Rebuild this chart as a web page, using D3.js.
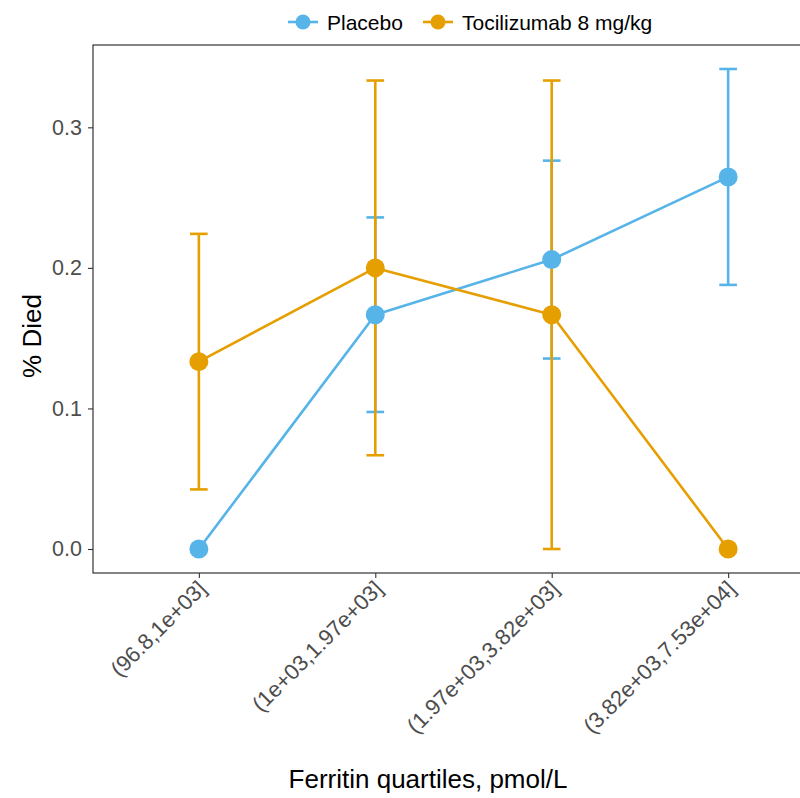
<!DOCTYPE html>
<html>
<head>
<meta charset="utf-8">
<script src="https://cdn.jsdelivr.net/npm/d3@7"></script>
<style>
  html, body { margin: 0; padding: 0; background: #fff; }
  svg { display: block; font-family: "Liberation Sans", Arial, Helvetica, sans-serif; }
</style>
</head>
<body>
<svg id="chart" width="800" height="798"></svg>
<script>
// ---- data ----
const categories = ["(96.8,1e+03]", "(1e+03,1.97e+03]", "(1.97e+03,3.82e+03]", "(3.82e+03,7.53e+04]"];
const seriesNames = ["Placebo", "Tocilizumab 8 mg/kg"];
const placeboMean  = [0.0, 0.1667, 0.2059, 0.2647];
const placeboLower = [0.0, 0.0975, 0.1355, 0.1879];
const placeboUpper = [0.0, 0.2359, 0.2763, 0.3415];
const tociMean  = [0.1333, 0.2000, 0.1667, 0.0];
const tociLower = [0.0424, 0.0667, 0.0, 0.0];
const tociUpper = [0.2242, 0.3333, 0.3333, 0.0];
const yTicks = [0.0, 0.1, 0.2, 0.3];
const colors = ["#56B4E9", "#E69F00"];

const series = [
  { name: seriesNames[0], color: colors[0], mean: placeboMean, lo: placeboLower, hi: placeboUpper },
  { name: seriesNames[1], color: colors[1], mean: tociMean, lo: tociLower, hi: tociUpper }
];

const svg = d3.select("#chart");
const panel = { left: 93, top: 45, right: 834, bottom: 573 };

const x = d3.scalePoint().domain(categories).range([panel.left, panel.right]).padding(0.6);
const yMax = d3.max([...placeboUpper, ...tociUpper]);
const yMin = 0;
const ex = (yMax - yMin) * 0.05;
const y = d3.scaleLinear().domain([yMin - ex, yMax + ex]).range([panel.bottom, panel.top]);

const capHalf = x.step() * 0.05;
const lw = 2.6;

// error bars
const gErr = svg.append("g");
series.forEach(s => {
  const g = gErr.append("g").attr("stroke", s.color).attr("stroke-width", lw).attr("fill", "none");
  categories.forEach((c, i) => {
    const cx = x(c);
    g.append("line").attr("x1", cx).attr("x2", cx).attr("y1", y(s.lo[i])).attr("y2", y(s.hi[i]));
    g.append("line").attr("x1", cx - capHalf).attr("x2", cx + capHalf).attr("y1", y(s.lo[i])).attr("y2", y(s.lo[i]));
    g.append("line").attr("x1", cx - capHalf).attr("x2", cx + capHalf).attr("y1", y(s.hi[i])).attr("y2", y(s.hi[i]));
  });
});

// lines
const line = d3.line().x((d, i) => x(categories[i])).y(d => y(d));
series.forEach(s => {
  svg.append("path").datum(s.mean).attr("d", line)
    .attr("fill", "none").attr("stroke", s.color).attr("stroke-width", lw).attr("stroke-linejoin", "round");
});

// points
series.forEach(s => {
  svg.append("g").selectAll("circle").data(s.mean).join("circle")
    .attr("cx", (d, i) => x(categories[i])).attr("cy", d => y(d)).attr("r", 9.5)
    .attr("fill", s.color);
});

// panel border
svg.append("rect").attr("x", panel.left).attr("y", panel.top)
  .attr("width", panel.right - panel.left).attr("height", panel.bottom - panel.top)
  .attr("fill", "none").attr("stroke", "#333").attr("stroke-width", 1.2);

// y axis
const yAxis = d3.axisLeft(y).tickValues(yTicks).tickFormat(d3.format(".1f")).tickSize(5).tickPadding(6);
const gy = svg.append("g").attr("transform", `translate(${panel.left},0)`).call(yAxis);
gy.select(".domain").remove();
gy.selectAll(".tick line").attr("stroke", "#333").attr("stroke-width", 1.1);
gy.selectAll(".tick text").attr("fill", "#4d4d4d").attr("font-size", 21.5)
  .attr("font-family", "Liberation Sans, Arial, sans-serif");

// x axis
const xAxis = d3.axisBottom(x).tickSize(5).tickPadding(4);
const gx = svg.append("g").attr("transform", `translate(0,${panel.bottom})`).call(xAxis);
gx.select(".domain").remove();
gx.selectAll(".tick line").attr("stroke", "#333").attr("stroke-width", 1.1);
gx.selectAll(".tick text")
  .attr("fill", "#4d4d4d").attr("font-size", 22)
  .attr("font-family", "Liberation Sans, Arial, sans-serif")
  .attr("text-anchor", "end")
  .attr("y", 0).attr("dy", "0.72em")
  .attr("transform", "translate(-3,6) rotate(-45)");

// axis titles
svg.append("text").attr("x", 428).attr("y", 788).attr("text-anchor", "middle")
  .attr("font-size", 26).attr("fill", "#000").text("Ferritin quartiles, pmol/L");
svg.append("text").attr("transform", "translate(41,336) rotate(-90)").attr("text-anchor", "middle")
  .attr("font-size", 26).attr("fill", "#000").text("% Died");

// legend
const legendItems = [
  { keyX: 303, textX: 327 },
  { keyX: 438, textX: 462 }
];
const legY = 22;
series.forEach((s, i) => {
  const it = legendItems[i];
  const g = svg.append("g");
  g.append("line").attr("x1", it.keyX - 15).attr("x2", it.keyX + 15).attr("y1", legY).attr("y2", legY)
    .attr("stroke", s.color).attr("stroke-width", lw);
  g.append("circle").attr("cx", it.keyX).attr("cy", legY).attr("r", 7.5).attr("fill", s.color);
  g.append("text").attr("x", it.textX).attr("y", legY).attr("dy", "0.36em")
    .attr("font-size", 21).attr("fill", "#000").text(s.name);
});
</script>
</body>
</html>
